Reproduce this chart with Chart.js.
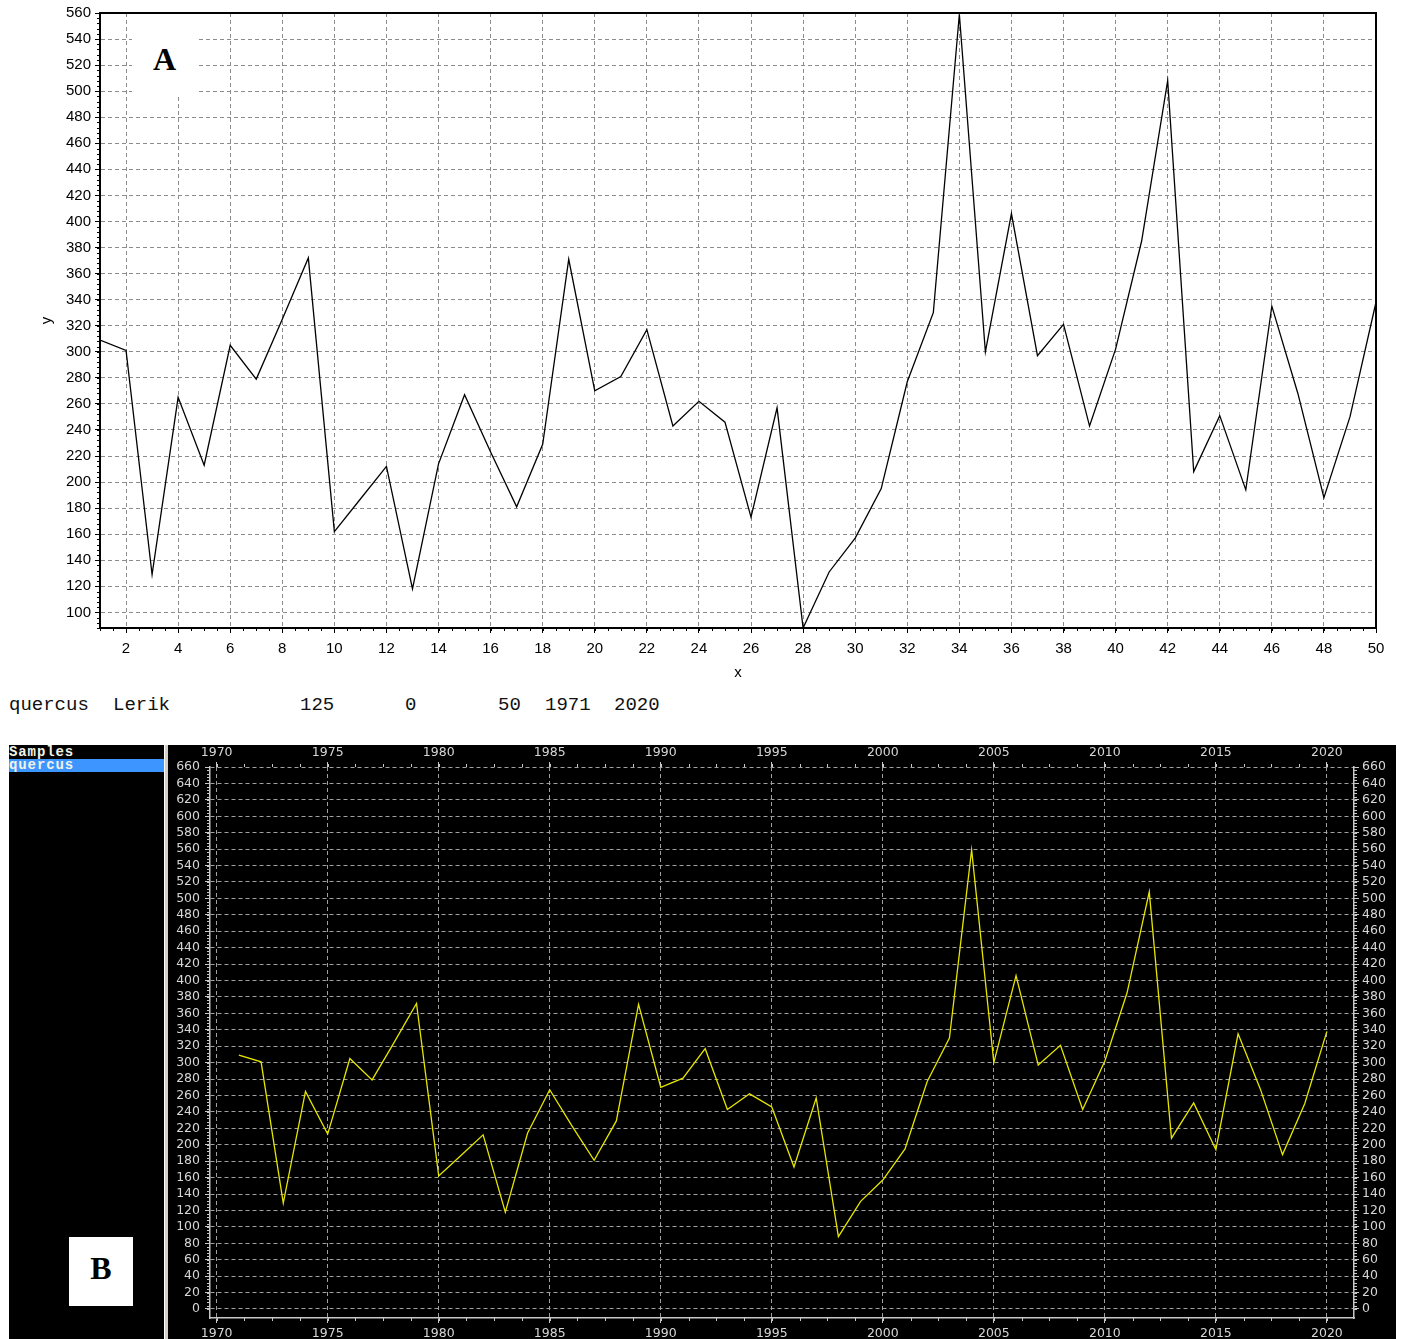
<!DOCTYPE html>
<html>
<head>
<meta charset="utf-8">
<script src="https://cdn.jsdelivr.net/npm/chart.js@4.4.1/dist/chart.umd.min.js"></script>
<style>
  html, body { margin: 0; padding: 0; background: #fff; }
  body { width: 1402px; height: 1339px; position: relative; overflow: hidden; }
  #cA { position: absolute; left: 0; top: 0; }
  #panelB { position: absolute; left: 9px; top: 745px; width: 1387px; height: 594px; background: #000; }
  #cB { position: absolute; left: 169px; top: 745px; }
  .lblbox { position: absolute; background: #fff; font-family: "Liberation Serif", serif; font-weight: bold; font-size: 32px; color: #000; display: flex; align-items: center; justify-content: center; box-sizing: border-box; }
  .info { position: absolute; top: 694px; font-family: "Liberation Mono", monospace; font-size: 19px; line-height: 22px; color: #111; white-space: pre; }
  #sep { position: absolute; left: 164px; top: 745px; width: 4px; height: 594px; background: #d4d0c8; border-left: 1px solid #fff; box-sizing: border-box; }
  .list { position: absolute; left: 9px; width: 155px; font-family: "Liberation Mono", monospace; font-size: 14px; font-weight: bold; letter-spacing: 0.9px; line-height: 13px; height: 13px; color: #f2f2e6; white-space: pre; }
</style>
</head>
<body>
<canvas id="cA" width="1402" height="690"></canvas>
<div class="lblbox" style="left:132px; top:14px; width:65px; height:83px; padding-top:8px;">A</div>

<div class="info" style="left:9px;">quercus</div>
<div class="info" style="left:113px;">Lerik</div>
<div class="info" style="left:300px;">125</div>
<div class="info" style="left:405px;">0</div>
<div class="info" style="left:498px;">50</div>
<div class="info" style="left:545px;">1971</div>
<div class="info" style="left:614px;">2020</div>

<div id="panelB"></div>
<div class="list" style="top:746px;">Samples</div>
<div class="list" style="top:759px; background:#3d95ff; left:9px;">quercus</div>
<div id="sep"></div>
<canvas id="cB" width="1227" height="594"></canvas>
<div class="lblbox" style="left:69px; top:1237px; width:64px; height:69px; padding-bottom:6px;">B</div>

<script>
// ---- data ----
const sampleIndex = [1,2,3,4,5,6,7,8,9,10,11,12,13,14,15,16,17,18,19,20,21,22,23,24,25,26,27,28,29,30,31,32,33,34,35,36,37,38,39,40,41,42,43,44,45,46,47,48,49,50];
const years = [1971,1972,1973,1974,1975,1976,1977,1978,1979,1980,1981,1982,1983,1984,1985,1986,1987,1988,1989,1990,1991,1992,1993,1994,1995,1996,1997,1998,1999,2000,2001,2002,2003,2004,2005,2006,2007,2008,2009,2010,2011,2012,2013,2014,2015,2016,2017,2018,2019,2020];
const ringWidth = [309,301,129,265,213,305,279,325,372,162,187,212,118,214,267,223,181,229,371,270,281,317,243,262,246,173,257,88,131,157,195,277,330,559,300,406,297,321,243,302,385,508,208,251,194,335,268,188,250,338];

// tick labels
const xTicksA = [2,4,6,8,10,12,14,16,18,20,22,24,26,28,30,32,34,36,38,40,42,44,46,48,50];
const yTicksA = [100,120,140,160,180,200,220,240,260,280,300,320,340,360,380,400,420,440,460,480,500,520,540,560];
const xTicksB = [1970,1975,1980,1985,1990,1995,2000,2005,2010,2015,2020];
const yTicksB = [0,20,40,60,80,100,120,140,160,180,200,220,240,260,280,300,320,340,360,380,400,420,440,460,480,500,520,540,560,580,600,620,640,660];

// ---- minor tick plugin (axis decoration only) ----
const minorTicks = {
  id: 'minorTicks',
  afterDraw(chart, args, opts) {
    const ctx = chart.ctx;
    (opts.axes || []).forEach(a => {
      const s = chart.scales[a.id];
      ctx.save();
      ctx.strokeStyle = a.color; ctx.lineWidth = 1;
      ctx.beginPath();
      for (let v = a.from; v <= a.to + 1e-9; v += a.step) {
        const p = Math.round(s.getPixelForValue(v)) + 0.5;
        if (s.isHorizontal()) {
          if (a.pos === 'bottom') { ctx.moveTo(p, s.top); ctx.lineTo(p, s.top + a.len); }
          else { ctx.moveTo(p, s.bottom); ctx.lineTo(p, s.bottom - a.len); }
        } else {
          if (a.pos === 'left') { ctx.moveTo(s.right, p); ctx.lineTo(s.right - a.len, p); }
          else { ctx.moveTo(s.left, p); ctx.lineTo(s.left + a.len, p); }
        }
      }
      ctx.stroke();
      ctx.restore();
    });
  }
};

function useTicks(arr) { return s => { s.ticks = arr.map(v => ({ value: v })); }; }
function fixW(w) { return s => { s.width = w; }; }
function fixH(h) { return s => { s.height = h; }; }
const plain = v => String(v);

// ---- Chart A ----
const fontA = { family: 'Liberation Sans', size: 15 };
const gridA = { color: '#8c8c8c', lineWidth: 1, tickLength: 5, tickColor: '#000', tickWidth: 1 };
const borderA = { color: '#000', width: 2, dash: [4, 3] };
new Chart(document.getElementById('cA'), {
  type: 'line',
  data: {
    datasets: [{
      data: sampleIndex.map((x, i) => ({ x: x, y: ringWidth[i] })),
      borderColor: '#000', borderWidth: 1.3, pointRadius: 0, tension: 0, fill: false
    }]
  },
  options: {
    responsive: false, animation: false, devicePixelRatio: 1,
    layout: { padding: 0 },
    plugins: {
      legend: { display: false }, tooltip: { enabled: false },
      minorTicks: { axes: [
        { id: 'x', pos: 'bottom', from: 1, to: 50, step: 0.5, len: 3, color: '#000' },
        { id: 'y', pos: 'left', from: 88, to: 560, step: 4, len: 3, color: '#000' }
      ] }
    },
    scales: {
      x: {
        type: 'linear', position: 'bottom', min: 1, max: 50,
        afterBuildTicks: useTicks(xTicksA), afterFit: fixH(62),
        ticks: { autoSkip: false, maxRotation: 0, padding: 7, color: '#000', font: fontA, callback: plain },
        grid: gridA, border: borderA,
        title: { display: true, text: 'x', color: '#000', font: fontA, padding: { top: 0, bottom: 8 } }
      },
      y: {
        type: 'linear', position: 'left', min: 88, max: 560,
        afterBuildTicks: useTicks(yTicksA), afterFit: fixW(100),
        ticks: { autoSkip: false, padding: 4, color: '#000', font: fontA, callback: plain },
        grid: gridA, border: borderA,
        title: { display: true, text: 'y', color: '#000', font: fontA, padding: { top: 38, bottom: 0 } }
      },
      x2: {
        type: 'linear', position: 'top', min: 1, max: 50, afterFit: fixH(13),
        ticks: { display: false }, grid: { display: false, drawTicks: false },
        border: { color: '#000', width: 2 }
      },
      y2: {
        type: 'linear', position: 'right', min: 88, max: 560, afterFit: fixW(26),
        ticks: { display: false }, grid: { display: false, drawTicks: false },
        border: { color: '#000', width: 2 }
      }
    }
  },
  plugins: [minorTicks]
});

// ---- Chart B ----
const fontB = { family: 'DejaVu Sans', size: 12.5 };
const gridB = '#a0a0a0';
const axisB = '#c8c8c8';
const labB = '#d6d6d6';
new Chart(document.getElementById('cB'), {
  type: 'line',
  data: {
    datasets: [{
      data: years.map((x, i) => ({ x: x, y: ringWidth[i] })),
      borderColor: '#e6e600', borderWidth: 1.3, pointRadius: 0, tension: 0, fill: false
    }]
  },
  options: {
    responsive: false, animation: false, devicePixelRatio: 1,
    layout: { padding: 0 },
    plugins: {
      legend: { display: false }, tooltip: { enabled: false },
      minorTicks: { axes: [
        { id: 'x', pos: 'bottom', from: 1970, to: 2021, step: 1.25, len: 3, color: axisB },
        { id: 'x2', pos: 'top', from: 1970, to: 2021, step: 1.25, len: 3, color: axisB },
        { id: 'y', pos: 'left', from: 0, to: 660, step: 4, len: 3, color: axisB },
        { id: 'y2', pos: 'right', from: 0, to: 660, step: 4, len: 3, color: axisB }
      ] }
    },
    scales: {
      x: {
        type: 'linear', position: 'bottom', min: 1969.7, max: 2021.22,
        afterBuildTicks: useTicks(xTicksB), afterFit: fixH(21),
        ticks: { autoSkip: false, maxRotation: 0, padding: 3, color: labB, font: fontB, callback: plain },
        grid: { color: gridB, lineWidth: 1, tickLength: 5, tickColor: axisB },
        border: { color: axisB, width: 1.5, dash: [4, 3] }
      },
      x2: {
        type: 'linear', position: 'top', min: 1969.7, max: 2021.22,
        afterBuildTicks: useTicks(xTicksB), afterFit: fixH(22),
        ticks: { autoSkip: false, maxRotation: 0, padding: 1.5, color: labB, font: fontB, callback: plain },
        grid: { drawOnChartArea: false, tickLength: 5, tickColor: axisB, color: axisB },
        border: { display: false }
      },
      y: {
        type: 'linear', position: 'left', min: -11, max: 660,
        afterBuildTicks: useTicks(yTicksB), afterFit: fixW(41),
        ticks: { autoSkip: false, padding: 5, color: labB, font: fontB, callback: plain },
        grid: { color: gridB, lineWidth: 1, tickLength: 5, tickColor: axisB },
        border: { color: axisB, width: 1.5, dash: [4, 3] }
      },
      y2: {
        type: 'linear', position: 'right', min: -11, max: 660,
        afterBuildTicks: useTicks(yTicksB), afterFit: fixW(42),
        ticks: { autoSkip: false, padding: 3, color: labB, font: fontB, callback: plain },
        grid: { drawOnChartArea: false, tickLength: 5, tickColor: axisB, color: axisB },
        border: { color: axisB, width: 1.5 }
      }
    }
  },
  plugins: [minorTicks]
});
</script>
</body>
</html>
